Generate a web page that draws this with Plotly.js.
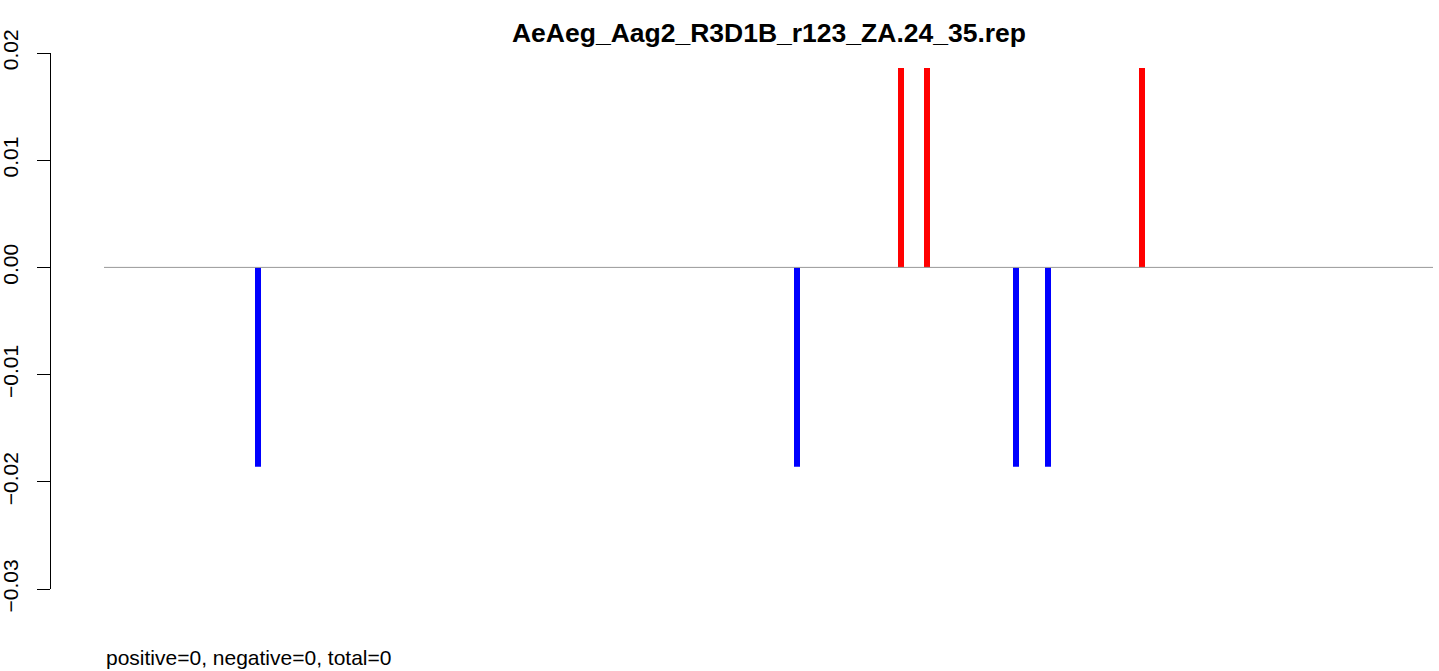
<!DOCTYPE html>
<html>
<head>
<meta charset="utf-8">
<script src="https://cdn.plot.ly/plotly-3.0.1.min.js"></script>
<style>html,body{margin:0;padding:0;background:#fff;}#chart{width:1439px;height:671px;}</style>
</head>
<body>
<div id="chart"></div>
<script>
// Data (position along read, value)
const titleText = "AeAeg_Aag2_R3D1B_r123_ZA.24_35.rep";
const posPositions = [797, 823, 1038];
const posValues = [0.0186, 0.0186, 0.0186];
const negPositions = [154, 693, 912, 944];
const negValues = [-0.0186, -0.0186, -0.0186, -0.0186];
const baselineX = [0, 1329];
const baselineY = [0, 0];
const yTickVals = [-0.03, -0.02, -0.01, 0.00, 0.01, 0.02];
const yTickText = ["\u22120.03", "\u22120.02", "\u22120.01", "0.00", "0.01", "0.02"];
const footerText = "positive=0, negative=0, total=0";

const font = "Liberation Sans, Arial, Helvetica, sans-serif";

const traces = [
  {type: 'scatter', mode: 'lines', x: baselineX, y: baselineY,
   line: {color: '#999999', width: 1}, hoverinfo: 'skip', showlegend: false},
  {type: 'bar', x: posPositions, y: posValues, base: 0, width: 6,
   marker: {color: '#FF0000', line: {width: 0}}, showlegend: false},
  {type: 'bar', x: negPositions, y: negValues, base: 0, width: 6,
   marker: {color: '#0000FF', line: {width: 0}}, showlegend: false}
];

const layout = {
  width: 1439, height: 671,
  paper_bgcolor: '#fff', plot_bgcolor: '#fff',
  margin: {l: 51, r: 0, t: 53, b: 82, pad: 0},
  barmode: 'overlay',
  showlegend: false,
  font: {family: font, color: '#000'},
  title: {text: '<b>' + titleText + '</b>', x: 769/1439, xref: 'container', xanchor: 'center',
          y: 1 - 33/671, yref: 'container', yanchor: 'middle',
          font: {family: font, size: 26.5, color: '#000'}},
  xaxis: {range: [-53, 1335], visible: false, showgrid: false, zeroline: false, fixedrange: true},
  yaxis: {range: [-0.03, 0.02], tickvals: yTickVals, ticktext: yTickText, tickangle: -90,
          showline: true, linecolor: '#000', linewidth: 1,
          ticks: 'outside', ticklen: 13, tickcolor: '#000', tickwidth: 1,
          showgrid: false, zeroline: false, ticklabelstandoff: 11,
          tickfont: {family: font, size: 21, color: '#000'}},
  annotations: [
    {text: footerText, xref: 'paper', yref: 'paper', x: 53/1388, y: -(657-589)/536,
     xanchor: 'left', yanchor: 'middle', showarrow: false,
     font: {family: font, size: 21, color: '#000'}}
  ]
};

Plotly.newPlot('chart', traces, layout, {staticPlot: true, displayModeBar: false});
</script>
</body>
</html>
